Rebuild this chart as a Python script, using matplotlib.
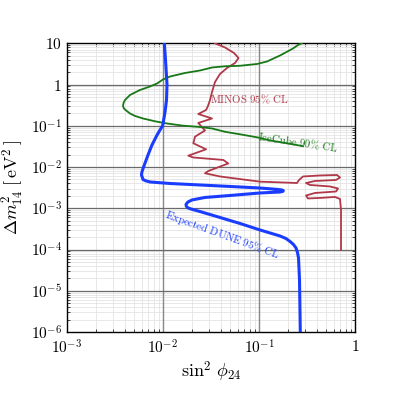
import numpy as np
import matplotlib
matplotlib.use("Agg")
import matplotlib.pyplot as plt
from matplotlib.ticker import LogLocator, FixedLocator, NullFormatter

plt.rcParams['mathtext.fontset'] = 'cm'
plt.rcParams['font.family'] = 'serif'

# Expected DUNE 95% CL sensitivity (sin^2 phi24, dm2_14 [eV^2])
dune_x = [0.01035, 0.01064, 0.01103, 0.0109, 0.01052, 0.00995, 0.00869, 0.0077,
          0.0070, 0.00652, 0.00614, 0.00603, 0.00599, 0.00621, 0.0066, 0.00735, 0.01187, 0.0243,
          0.0498, 0.102, 0.157, 0.172, 0.1786, 0.176, 0.165, 0.102, 0.0498, 0.0274, 0.02007,
          0.0182, 0.01738, 0.0175, 0.01824, 0.0205, 0.0232, 0.0348, 0.0633, 0.102, 0.165, 0.19,
          0.2094, 0.228, 0.2418, 0.2505, 0.2568, 0.263, 0.268]
dune_y = [10, 3.94, 1.0, 0.422, 0.216, 0.1017, 0.0598, 0.0343,
          0.0196, 0.01253, 0.00848, 0.0073, 0.00641, 0.00499, 0.00465, 0.00434, 0.00399, 0.00367,
          0.00338, 0.0031, 0.00286, 0.00278, 0.00267, 0.00256, 0.00248, 0.00235, 0.00204, 0.00183, 0.00159,
          0.00142, 0.00124, 0.00112, 0.001017, 0.00093, 0.00086, 0.00065, 0.000428, 0.000298, 0.000213, 0.000185,
          0.000157, 0.000132, 0.000109, 8.5e-5, 6.24e-5, 1.83e-5, 1e-6]

# IceCube 90% CL
ice_x = [0.2773, 0.2537, 0.225, 0.165, 0.1208, 0.0951, 0.0633, 0.0442, 0.0324, 0.0243,
         0.01697, 0.01187, 0.01002, 0.00869, 0.00735, 0.00578, 0.00455, 0.004036, 0.00390, 0.003847,
         0.00392, 0.004087, 0.00455, 0.00513, 0.00621, 0.00828, 0.01103, 0.01618, 0.0243, 0.0324,
         0.0442, 0.0633, 0.0951, 0.1298, 0.195, 0.286]
ice_y = [10, 9.09, 7.48, 5.06, 3.62, 3.15, 2.85, 2.77, 2.59, 2.19,
         1.905, 1.567, 1.326, 1.06, 0.897, 0.738, 0.558, 0.422, 0.36, 0.302,
         0.265, 0.2415, 0.1986, 0.173, 0.1503, 0.1285, 0.1137, 0.1006, 0.0935, 0.086,
         0.0715, 0.0622, 0.0526, 0.0441, 0.0377, 0.0320]

# MINOS 95% CL
minos_x = [0.0348, 0.0442, 0.0548, 0.0611, 0.0562, 0.0464, 0.0392, 0.0348, 0.0324, 0.0309,
           0.0294, 0.0281, 0.0233, 0.0324, 0.0233, 0.0274, 0.02157, 0.0207, 0.0281, 0.01837,
           0.0207, 0.0425, 0.0478, 0.02965, 0.0274, 0.0392, 0.102, 0.2477, 0.260, 0.286,
           0.4295, 0.6454, 0.6934, 0.630, 0.381, 0.3074, 0.338, 0.5458, 0.661, 0.630,
           0.381, 0.3074, 0.322, 0.4295, 0.615, 0.6934, 0.710, 0.710, 0.710]
minos_y = [10, 7.91, 5.82, 4.40, 3.33, 2.52, 1.80, 1.153, 0.660, 0.422,
           0.302, 0.2415, 0.193, 0.1503, 0.117, 0.0769, 0.0545, 0.0377, 0.0269, 0.01884,
           0.01704, 0.01483, 0.01219, 0.00802, 0.00706, 0.0059, 0.00442, 0.0041, 0.00485, 0.0059,
           0.00624, 0.00641, 0.00558, 0.00485, 0.00459, 0.0041, 0.00367, 0.00338, 0.00302, 0.00255,
           0.00235, 0.00204, 0.00173, 0.00178, 0.00188, 0.00168, 0.00091, 0.000298, 9.75e-5]

x_ticks = [1e-3, 1e-2, 1e-1, 1]
x_labels = [r'$10^{-3}$', r'$10^{-2}$', r'$10^{-1}$', r'$1$']
y_ticks = [1e-6, 1e-5, 1e-4, 1e-3, 1e-2, 1e-1, 1, 10]
y_labels = [r'$10^{-6}$', r'$10^{-5}$', r'$10^{-4}$', r'$10^{-3}$', r'$10^{-2}$',
            r'$10^{-1}$', r'$1$', r'$10$']

blue = '#1a3cff'
green = '#187818'
red = '#b03848'

fig = plt.figure(figsize=(3.99, 3.99), dpi=100)
ax = fig.add_axes([0.1672, 0.1679, 0.7233, 0.7236])

ax.set_xscale('log')
ax.set_yscale('log')
ax.set_xlim(1e-3, 1)
ax.set_ylim(1e-6, 10)

ax.plot(minos_x, minos_y, color=red, lw=1.3, zorder=3, solid_joinstyle='round')
ax.plot(ice_x, ice_y, color=green, lw=1.3, zorder=3, solid_joinstyle='round')
ax.plot(dune_x, dune_y, color=blue, lw=2.2, zorder=4, solid_joinstyle='round')

# ticks and grid
ax.xaxis.set_major_locator(FixedLocator(x_ticks))
ax.yaxis.set_major_locator(FixedLocator(y_ticks))
ax.xaxis.set_minor_locator(LogLocator(base=10, subs=np.arange(2, 10), numticks=20))
ax.yaxis.set_minor_locator(LogLocator(base=10, subs=np.arange(2, 10), numticks=20))
ax.xaxis.set_minor_formatter(NullFormatter())
ax.yaxis.set_minor_formatter(NullFormatter())
ax.set_xticklabels(x_labels)
ax.set_yticklabels(y_labels)
ax.grid(True, which='minor', color='#e4e4e4', lw=0.6)
ax.set_axisbelow(True)
for t in x_ticks[1:-1]:
    ax.axvline(t, color='#888888', lw=1.0, zorder=1)
for t in y_ticks[1:-1]:
    ax.axhline(t, color='#6a6a6a', lw=0.9, zorder=1)
ax.tick_params(which='both', direction='in', top=True, right=True, labelsize=11)
ax.tick_params(which='major', length=3.5, width=0.6)
ax.tick_params(which='minor', length=2, width=0.5)
ax.tick_params(axis='x', pad=5)
for s in ax.spines.values():
    s.set_linewidth(1.0)

ax.set_xlabel(r'$\sin^2\,\phi_{24}$', fontsize=13, labelpad=2)
ax.set_ylabel(r'$\Delta m^2_{14}\ [\,\mathrm{eV}^2\,]$', fontsize=13, labelpad=3)

ax.text(0.0309, 0.439, r'$\mathrm{MINOS\ 95\%\ CL}$', color=red, fontsize=7.8,
        ha='left', va='center', zorder=5)
ax.text(0.2537, 0.0405, r'$\mathrm{IceCube\ 90\%\ CL}$', color=green, fontsize=7.8,
        ha='center', va='center', rotation=-8.5, zorder=5)
ax.text(0.0415, 0.00023, r'$\mathrm{Expected\ DUNE\ 95\%\ CL}$', color=blue, fontsize=7.8,
        ha='center', va='center', rotation=-20, zorder=5)

fig.savefig('out.png', dpi=100)
